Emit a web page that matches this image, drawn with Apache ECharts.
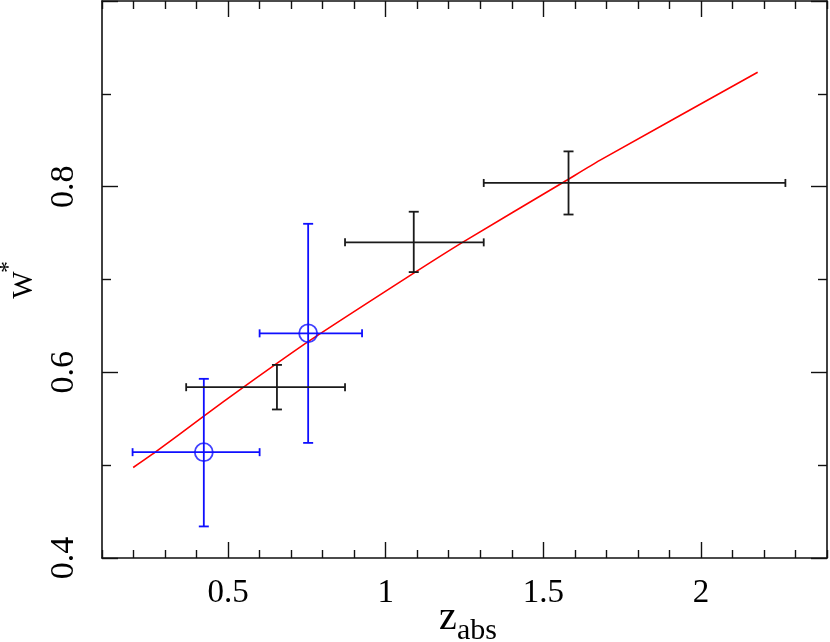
<!DOCTYPE html>
<html>
<head>
<meta charset="utf-8">
<script src="https://cdn.jsdelivr.net/npm/echarts@6/dist/echarts.min.js"></script>
<style>html,body{margin:0;padding:0;background:#fff}#c{width:830px;height:642px}</style>
</head>
<body>
<div id="c"></div>
<script>
// ---- data ----
const blueX   = [0.423, 0.754];
const blueY   = [0.514, 0.642];
const blueXlo = [0.197, 0.600];
const blueXhi = [0.600, 0.925];
const blueYlo = [0.434, 0.524];
const blueYhi = [0.593, 0.760];

const blackX   = [0.655, 1.089, 1.580];
const blackY   = [0.584, 0.740, 0.804];
const blackXlo = [0.367, 0.871, 1.311];
const blackXhi = [0.871, 1.311, 2.268];
const blackYlo = [0.560, 0.708, 0.770];
const blackYhi = [0.608, 0.773, 0.838];

const fitX = [0.199, 0.268, 0.423, 0.548, 0.754, 1.089, 1.245, 1.565, 1.679, 2.180];
const fitY = [0.4975, 0.5137, 0.5529, 0.5838, 0.6330, 0.7068, 0.7402, 0.8050, 0.8283, 0.9232];

const xMajor = [0.5, 1, 1.5, 2];
const xMinor = [0.1,0.2,0.3,0.4,0.6,0.7,0.8,0.9,1.1,1.2,1.3,1.4,1.6,1.7,1.8,1.9,2.1,2.2,2.3,2.4];
const yMajor = [0.4, 0.6, 0.8, 1.0];
const yMinor = [0.5, 0.7, 0.9];
const yLabels = [0.4, 0.6, 0.8];

// ---- build ----
const FONT = 'Liberation Serif';
function errData(x, y, xlo, xhi, ylo, yhi) {
  return x.map((v, i) => [v, y[i], xlo[i], xhi[i], ylo[i], yhi[i]]);
}
function errRender(color) {
  return function (params, api) {
    const l = api.coord([api.value(2), api.value(1)]);
    const r = api.coord([api.value(3), api.value(1)]);
    const b = api.coord([api.value(0), api.value(4)]);
    const t = api.coord([api.value(0), api.value(5)]);
    const st = { stroke: color, lineWidth: 1.8 };
    const hc = 4, vc = 5;
    return {
      type: 'group',
      children: [
        { type: 'line', shape: { x1: l[0], y1: l[1], x2: r[0], y2: r[1] }, style: st },
        { type: 'line', shape: { x1: l[0], y1: l[1] - hc, x2: l[0], y2: l[1] + hc }, style: st },
        { type: 'line', shape: { x1: r[0], y1: r[1] - hc, x2: r[0], y2: r[1] + hc }, style: st },
        { type: 'line', shape: { x1: b[0], y1: b[1], x2: t[0], y2: t[1] }, style: st },
        { type: 'line', shape: { x1: b[0] - vc, y1: b[1], x2: b[0] + vc, y2: b[1] }, style: st },
        { type: 'line', shape: { x1: t[0] - vc, y1: t[1], x2: t[0] + vc, y2: t[1] }, style: st }
      ]
    };
  };
}
const lineCol = '#111';
function xAx(pos, ticks, len, labels, showLine) {
  return {
    type: 'value', min: 0.1, max: 2.4, position: pos,
    axisLine: { show: showLine, onZero: false, lineStyle: { color: lineCol, width: 1.6 } },
    axisTick: { show: true, inside: true, length: len, customValues: ticks, lineStyle: { color: lineCol, width: 1.4 } },
    axisLabel: labels ? { show: true, customValues: labels, margin: 19, color: '#000', fontFamily: FONT, fontSize: 33 } : { show: false },
    splitLine: { show: false }
  };
}
function yAx(pos, ticks, len, labels, showLine) {
  return {
    type: 'value', min: 0.4, max: 1.0, position: pos,
    axisLine: { show: showLine, onZero: false, lineStyle: { color: lineCol, width: 1.6 } },
    axisTick: { show: true, inside: true, length: len, customValues: ticks, lineStyle: { color: lineCol, width: 1.4 } },
    axisLabel: labels ? { show: true, customValues: labels, rotate: 90, margin: 21, color: '#000', fontFamily: FONT, fontSize: 34 } : { show: false },
    splitLine: { show: false }
  };
}

const option = {
  animation: false,
  backgroundColor: '#fff',
  grid: { left: 102, right: 3, top: 1, bottom: 84, containLabel: false },
  xAxis: [
    xAx('bottom', xMajor, 16, xMajor, true),
    xAx('bottom', xMinor, 8, null, false),
    xAx('top', xMajor, 16, null, true),
    xAx('top', xMinor, 8, null, false)
  ],
  yAxis: [
    yAx('left', yMajor, 16, yLabels, true),
    yAx('left', yMinor, 9, null, false),
    yAx('right', yMajor, 16, null, true),
    yAx('right', yMinor, 9, null, false)
  ],
  series: [
    {
      type: 'line', data: fitX.map((v, i) => [v, fitY[i]]),
      symbol: 'none', smooth: 0.2, lineStyle: { color: '#ff0000', width: 1.6 }, z: 3
    },
    {
      type: 'custom', renderItem: errRender('#0f0fff'),
      data: errData(blueX, blueY, blueXlo, blueXhi, blueYlo, blueYhi), z: 4
    },
    {
      type: 'custom', renderItem: errRender('#1a1a1a'),
      data: errData(blackX, blackY, blackXlo, blackXhi, blackYlo, blackYhi), z: 4
    },
    {
      type: 'scatter', data: blueX.map((v, i) => [v, blueY[i]]),
      symbol: 'circle', symbolSize: 18,
      itemStyle: { color: 'rgba(0,0,0,0)', borderColor: '#0f0fff', borderWidth: 1.8 }, z: 5
    }
  ],
  graphic: [
    { type: 'text', x: 439, y: 618, style: { text: 'z', fontFamily: FONT, fontSize: 40, fill: '#000', align: 'left', verticalAlign: 'middle' } },
    { type: 'text', x: 457, y: 631, style: { text: 'abs', fontFamily: FONT, fontSize: 30, fill: '#000', align: 'left', verticalAlign: 'middle' } },
    { type: 'text', x: 24, y: 285, rotation: Math.PI / 2, style: { text: 'W', fontFamily: FONT, fontSize: 29, fill: '#000', align: 'center', verticalAlign: 'middle' } },
    { type: 'text', x: 9, y: 267, rotation: Math.PI / 2, style: { text: '*', fontFamily: FONT, fontSize: 24, fill: '#000', align: 'center', verticalAlign: 'middle' } }
  ]
};
const chart = echarts.init(document.getElementById('c'), null, { renderer: 'canvas' });
chart.setOption(option);
</script>
</body>
</html>
